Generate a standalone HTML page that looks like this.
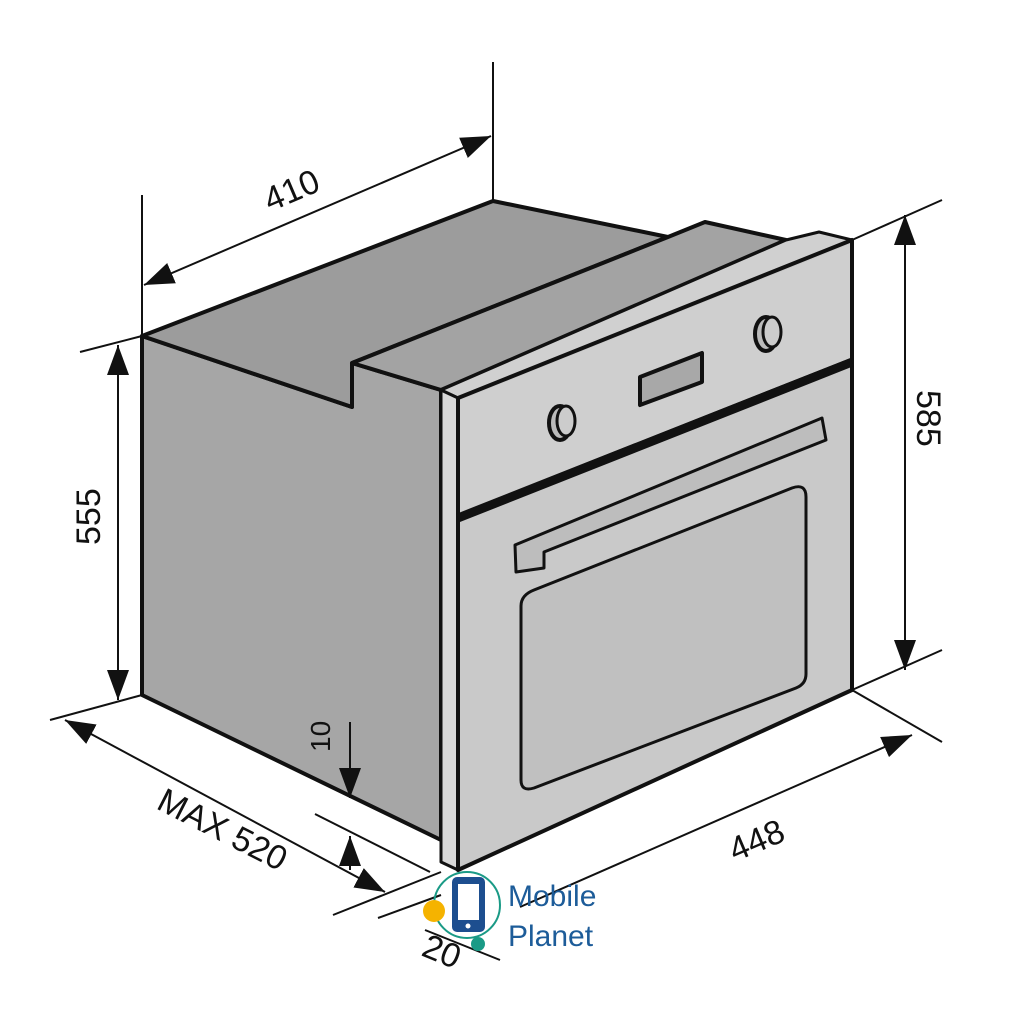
<!DOCTYPE html>
<html><head><meta charset="utf-8"><style>
html,body{margin:0;padding:0;background:#fff;width:1024px;height:1024px;overflow:hidden}
svg{display:block}
text{font-family:"Liberation Sans",sans-serif}
</style></head><body>
<svg width="1024" height="1024" viewBox="0 0 1024 1024" xmlns="http://www.w3.org/2000/svg">
<defs>
<marker id="a" viewBox="0 0 10 10" refX="10" refY="5" markerWidth="9" markerHeight="9" orient="auto-start-reverse" markerUnits="userSpaceOnUse"><path d="M0,0 L10,5 L0,10 z" fill="#111"/></marker>
<marker id="b" viewBox="0 0 10 10" refX="10" refY="5" markerWidth="30" markerHeight="22" orient="auto-start-reverse" markerUnits="userSpaceOnUse" preserveAspectRatio="none"><path d="M0,0 L10,5 L0,10 z" fill="#111"/></marker>
</defs>
<g stroke="#111" stroke-linejoin="round">
<!-- side face -->
<polygon points="142,336 352,407 352,363 441,390 441,840 142,695" fill="#a6a6a6" stroke-width="4"/>
<!-- top face -->
<polygon points="142,336 493,201 668,237 352,363 352,407" fill="#9c9c9c" stroke-width="4"/>
<!-- raised block top -->
<polygon points="352,363 668,237 705,222 786,240 441,390" fill="#a3a3a3" stroke-width="4"/>
<!-- frame strip top -->
<polygon points="441,390 786,240 819,232 852,240 458,398" fill="#d0d0d0" stroke-width="3"/>
<!-- thin side strip -->
<polygon points="441,390 458,398 458,870 441,862" fill="#d8d8d8" stroke-width="3"/>
<!-- front face -->
<polygon points="458,398 852,240 852,690 458,870" fill="#c9c9c9" stroke-width="4"/>
<!-- separator -->
<line x1="458" y1="518" x2="852" y2="362" stroke-width="9"/>
<!-- control panel lighter -->
<polygon points="460,400 850,244 850,358 460,512" fill="#cfcfcf" stroke="none"/>
<!-- display -->
<polygon points="640,377 702,353 702,382 640,405" fill="#a8a8a8" stroke-width="4"/>
<!-- knobs -->
<ellipse cx="560" cy="423" rx="11" ry="17" fill="#bbb" stroke-width="4"/>
<ellipse cx="566" cy="421" rx="9" ry="15" fill="#ccc" stroke-width="3"/>
<ellipse cx="766" cy="334" rx="11" ry="17" fill="#bbb" stroke-width="4"/>
<ellipse cx="772" cy="332" rx="9" ry="15" fill="#ccc" stroke-width="3"/>
<!-- window -->
<path d="M534,590 L792,488 Q806,483 806,497 L806,674 Q806,684 796,688 L534,788 Q521,792 521,780 L521,606 Q521,595 534,590 z" fill="#c0c0c0" stroke-width="3"/>
<!-- handle -->
<polygon points="515,545 822,418 826,440 544,552 544,568 516,572" fill="#bdbdbd" stroke-width="3"/>
</g>
<g stroke="#111" stroke-width="2" fill="none">
<!-- 410 -->
<line x1="142" y1="195" x2="142" y2="336"/>
<line x1="493" y1="62" x2="493" y2="200"/>
<line x1="144" y1="285" x2="491" y2="136" marker-start="url(#b)" marker-end="url(#b)"/>
<!-- 555 -->
<line x1="80" y1="352" x2="142" y2="336"/>
<line x1="118" y1="345" x2="118" y2="700" marker-start="url(#b)" marker-end="url(#b)"/>
<!-- 585 -->
<line x1="852" y1="240" x2="942" y2="200"/>
<line x1="852" y1="690" x2="942" y2="650"/>
<line x1="905" y1="215" x2="905" y2="670" marker-start="url(#b)" marker-end="url(#b)"/>
<!-- 448 -->
<line x1="852" y1="690" x2="942" y2="742"/>
<line x1="520" y1="907" x2="912" y2="735" marker-end="url(#b)"/>
<!-- MAX 520 -->
<line x1="50" y1="720" x2="142" y2="695"/>
<line x1="65" y1="720" x2="385" y2="892" marker-start="url(#b)" marker-end="url(#b)"/>
<!-- 10 -->
<line x1="315" y1="814" x2="430" y2="872"/>
<line x1="350" y1="722" x2="350" y2="798" marker-end="url(#b)"/>
<line x1="350" y1="870" x2="350" y2="836" marker-end="url(#b)"/>
<line x1="333" y1="915" x2="441" y2="872"/>
<line x1="378" y1="918" x2="441" y2="895"/>
<line x1="425" y1="930" x2="500" y2="960"/>
</g>
<g fill="#111" font-size="34">
<text transform="translate(270,212) rotate(-23)">410</text>
<text transform="translate(100,545) rotate(-90)">555</text>
<text transform="translate(917,390) rotate(90)">585</text>
<text transform="translate(735,862) rotate(-23)">448</text>
<text transform="translate(155,808) rotate(27)">MAX 520</text>
<text transform="translate(330,752) rotate(-90)" font-size="28">10</text>
<text transform="translate(420,955) rotate(22)">20</text>
</g>
<!-- logo -->
<circle cx="467" cy="905" r="33" fill="none" stroke="#1a9a86" stroke-width="2"/>
<circle cx="434" cy="911" r="11" fill="#f5b300"/>
<circle cx="478" cy="944" r="7" fill="#1a9a86"/>
<rect x="452" y="877" width="33" height="55" rx="5" fill="#1d4e8f"/>
<rect x="458" y="884" width="21" height="36" fill="#fff"/>
<circle cx="468" cy="926" r="2.5" fill="#fff"/>
<text x="508" y="906" font-size="30" fill="#1d5c99">Mobile</text>
<text x="508" y="946" font-size="30" fill="#1d5c99">Planet</text>
</svg>
</body></html>
